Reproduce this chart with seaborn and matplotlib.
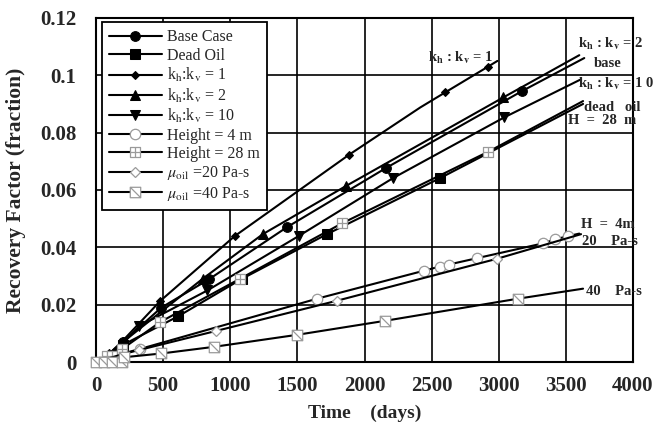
import numpy as np
import pandas as pd
import matplotlib
matplotlib.use("Agg")
import matplotlib.pyplot as plt
from matplotlib.path import Path
import seaborn as sns

# ---------------- data ----------------
base_x = [0, 100, 200, 486, 845, 1421, 2161, 3170, 3637]
base_y = [0, 0.003, 0.007, 0.0190, 0.0290, 0.0470, 0.0677, 0.0944, 0.1060]

dead_x = [0, 100, 200, 613, 1085, 1720, 2565, 3628]
dead_y = [0, 0.0025, 0.006, 0.0160, 0.0290, 0.0446, 0.0642, 0.0900]

kh1_x = [0, 100, 200, 480, 1032, 1885, 2416, 2600, 2920, 2990]
kh1_y = [0, 0.003, 0.0075, 0.0214, 0.0439, 0.0723, 0.0888, 0.0940, 0.1030, 0.1050]

kh2_x = [0, 100, 200, 793, 1242, 1862, 3035, 3600]
kh2_y = [0, 0.003, 0.007, 0.0290, 0.0446, 0.0614, 0.0923, 0.1070]

kh10_x = [0, 100, 200, 320, 830, 1511, 2214, 3040, 3613]
kh10_y = [0, 0.003, 0.0065, 0.0125, 0.0250, 0.0440, 0.0642, 0.0853, 0.0986]

h4_x = [0, 200, 329, 1646, 2446, 2560, 2626, 2835, 3330, 3420, 3515, 3600]
h4_y = [0, 0.003, 0.0046, 0.0221, 0.0319, 0.0333, 0.0340, 0.0362, 0.0414, 0.0428, 0.0439, 0.0448]

h28_x = [0, 85, 120, 195, 479, 1070, 1833, 2920, 3628]
h28_y = [0, 0.0020, 0.0020, 0.0046, 0.0140, 0.0290, 0.0484, 0.0733, 0.0910]

mu20_x = [0, 200, 320, 897, 1795, 2985, 3613]
mu20_y = [0, 0.0028, 0.0042, 0.0109, 0.0214, 0.0360, 0.0446]

mu40_x = [0, 60, 120, 190, 210, 486, 875, 1496, 2154, 3142, 3628]
mu40_y = [0, 0, 0, 0, 0.0017, 0.0030, 0.0053, 0.0095, 0.0144, 0.0221, 0.0256]

# ---------------- styling ----------------
sns.set_style("white")
plt.rcParams["font.family"] = ["Liberation Serif", "DejaVu Serif"]
plt.rcParams["mathtext.fontset"] = "stix"

fig = plt.figure(figsize=(6.58, 4.26), dpi=100)
ax = fig.add_axes([0.146, 0.150, 0.816, 0.808])

grey = "#9a9a9a"
sq_plus = Path([(-1, -1), (1, -1), (1, 1), (-1, 1), (-1, -1),
                (0, -1), (0, 1), (-1, 0), (1, 0)],
               [Path.MOVETO, Path.LINETO, Path.LINETO, Path.LINETO, Path.CLOSEPOLY,
                Path.MOVETO, Path.LINETO, Path.MOVETO, Path.LINETO])
sq_diag = Path([(-1, -1), (1, -1), (1, 1), (-1, 1), (-1, -1),
                (-1, 1), (1, -1)],
               [Path.MOVETO, Path.LINETO, Path.LINETO, Path.LINETO, Path.CLOSEPOLY,
                Path.MOVETO, Path.LINETO])

series = [
    ("Base Case", base_x, base_y, dict(marker="o", ms=7, mfc="black", mec="black"), list(range(2, 8))),
    ("Dead Oil", dead_x, dead_y, dict(marker="s", ms=7, mfc="black", mec="black"), list(range(2, 7))),
    (r"k$_{\rm h}$:k$_{\rm v}$ = 1", kh1_x, kh1_y, dict(marker="D", ms=4.5, mfc="black", mec="black"), [1, 2, 3, 4, 5, 7, 8]),
    (r"k$_{\rm h}$:k$_{\rm v}$ = 2", kh2_x, kh2_y, dict(marker="^", ms=6.5, mfc="black", mec="black"), list(range(2, 7))),
    (r"k$_{\rm h}$:k$_{\rm v}$ = 10", kh10_x, kh10_y, dict(marker="v", ms=6.5, mfc="black", mec="black"), list(range(3, 8))),
    ("Height = 4 m", h4_x, h4_y, dict(marker="o", ms=7.5, mfc="white", mec=grey, mew=0.9), list(range(2, 11))),
    ("Height = 28 m", h28_x, h28_y, dict(marker=sq_plus, ms=7.5, mfc="white", mec=grey, mew=0.9), list(range(1, 8))),
    (r"$\mu_{\rm oil}$ =20 Pa-s", mu20_x, mu20_y, dict(marker="D", ms=5.5, mfc="white", mec=grey, mew=0.9), list(range(2, 6))),
    (r"$\mu_{\rm oil}$ =40 Pa-s", mu40_x, mu40_y, dict(marker=sq_diag, ms=7.5, mfc="white", mec=grey, mew=0.9), list(range(0, 10))),
]

for name, xs, ys, mk, every in series:
    df = pd.DataFrame({"t": xs, "rf": ys})
    sns.lineplot(data=df, x="t", y="rf", ax=ax, sort=False, estimator=None,
                 color="black", lw=1.5, label=name, markevery=every,
                 clip_on=False, zorder=3, **mk)

ax.set_xlim(0, 4000)
ax.set_ylim(0, 0.12)
ax.set_xticks(np.arange(0, 4001, 500))
ax.set_yticks(np.arange(0, 0.1201, 0.02))
ax.set_yticklabels(["0", "0.02", "0.04", "0.06", "0.08", "0.1", "0.12"])
ax.grid(True, color="black", lw=1.2)
ax.set_axisbelow(True)
for s in ax.spines.values():
    s.set_color("black")
    s.set_linewidth(1.5)
ax.tick_params(axis="x", labelsize=15, length=0, pad=10)
ax.tick_params(axis="y", labelsize=15, length=0, pad=14)
for lab in ax.get_xticklabels() + ax.get_yticklabels():
    lab.set_fontweight("bold")

ax.set_xlabel("Time    (days)", fontsize=14, fontweight="bold", labelpad=6)
ax.set_ylabel("Recovery Factor (fraction)", fontsize=15.5, fontweight="bold", labelpad=10)

leg = ax.legend(loc="upper left", bbox_to_anchor=(0.005, 0.997), fontsize=11.5,
                frameon=True, fancybox=False, framealpha=1, edgecolor="black",
                handlelength=3.3, labelspacing=0.15, borderpad=0.45,
                handletextpad=0.3, borderaxespad=0.2)
leg.get_frame().set_linewidth(1.3)

tk = dict(fontsize=10.5, fontweight="bold", ha="left", va="center", clip_on=False)
ax.text(2476, 0.1060, r"k$_{\mathbf{h}}$ : k$_{\mathbf{v}}$ = 1", **tk)
ax.text(3590, 0.1110, r"k$_{\mathbf{h}}$ : k$_{\mathbf{v}}$ = 2", **tk)
ax.text(3710, 0.1040, "base", **tk)
ax.text(3590, 0.0970, r"k$_{\mathbf{h}}$ : k$_{\mathbf{v}}$ = 1 0", **tk)
ax.text(3636, 0.0888, "dead   oil", **tk)
ax.text(3516, 0.0842, "H  =  28  m", **tk)
ax.text(3613, 0.0480, "H  =  4m", **tk)
ax.text(3620, 0.0420, "20    Pa-s", **tk)
ax.text(3650, 0.0246, "40    Pa-s", **tk)

fig.savefig("out.png", dpi=100)
